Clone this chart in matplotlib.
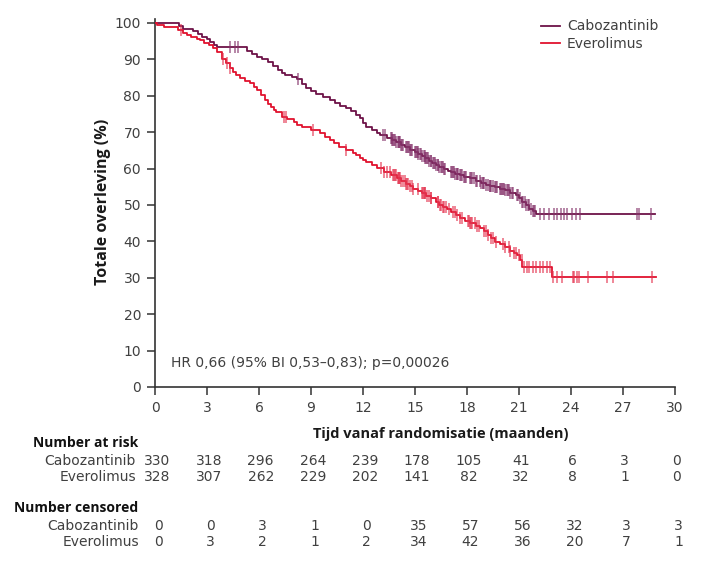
import numpy as np
import matplotlib
matplotlib.use("Agg")
import matplotlib.pyplot as plt
import matplotlib.transforms as mtransforms
from matplotlib.lines import Line2D

plt.rcParams['font.family'] = ['DejaVu Sans']
BOLD_FAMILY = ['Open Sans', 'DejaVu Sans']

# ---------------- data ----------------
series_names = ["Cabozantinib", "Everolimus"]

cabo_times = [0, 1.4, 1.6, 2.2, 2.5, 2.7, 3.0, 3.2, 3.4, 3.6, 5.3, 5.6, 5.9, 6.2, 6.5, 6.8,
              7.1, 7.3, 7.5, 7.9, 8.2, 8.5, 8.7, 9.0, 9.3, 9.7, 10.1, 10.4, 10.7, 11.0, 11.3,
              11.6, 11.8, 12.0, 12.2, 12.5, 12.8, 13.0, 13.4, 13.7, 13.9, 14.2, 14.4, 14.7,
              15.0, 15.2, 15.4, 15.6, 15.8, 16.0, 16.2, 16.4, 16.7, 16.9, 17.1, 17.3, 17.6,
              17.8, 18.2, 18.5, 18.8, 19.1, 19.3, 19.6, 19.9, 20.2, 20.5, 20.8, 21.0, 21.2,
              21.4, 21.6, 21.8, 22.0]
cabo_surv = [100, 99.3, 98.3, 97.7, 97.0, 96.2, 95.5, 94.8, 94.0, 93.4, 92.4, 91.6, 90.6, 90.0,
             89.3, 88.2, 87.0, 86.3, 85.7, 85.2, 84.6, 83.3, 82.2, 81.2, 80.4, 79.6, 78.8,
             78.0, 77.3, 76.6, 75.9, 74.8, 73.8, 72.6, 71.5, 70.6, 69.8, 69.2, 68.4, 67.8,
             67.2, 66.6, 66.0, 65.2, 64.5, 64.0, 63.4, 62.8, 62.2, 61.6, 61.0, 60.4, 59.8,
             59.4, 59.0, 58.6, 58.2, 57.8, 57.4, 56.7, 56.0, 55.6, 55.3, 55.0, 54.5, 54.0,
             53.4, 52.7, 51.8, 50.8, 50.0, 49.0, 48.3, 47.6]

evero_times = [0, 0.1, 0.5, 1.3, 1.6, 1.85, 2.1, 2.4, 2.6, 2.85, 3.1, 3.35, 3.6, 3.85, 4.1,
               4.3, 4.5, 4.7, 4.9, 5.2, 5.5, 5.7, 5.9, 6.1, 6.35, 6.5, 6.7, 6.85, 7.0, 7.3,
               7.6, 8.0, 8.2, 8.5, 9.0, 9.5, 9.8, 10.1, 10.35, 10.6, 11.0, 11.4, 11.6, 11.8,
               12.0, 12.2, 12.5, 12.8, 13.2, 13.6, 13.95, 14.2, 14.5, 14.7, 14.9, 15.2, 15.4,
               15.65, 15.9, 16.2, 16.4, 16.6, 16.85, 17.1, 17.35, 17.6, 17.9, 18.2, 18.5,
               18.75, 19.0, 19.2, 19.4, 19.6, 19.9, 20.2, 20.5, 20.7, 20.9, 21.05, 21.2, 22.9]
evero_surv = [100, 99.5, 98.8, 98.0, 97.2, 96.7, 96.2, 95.7, 95.3, 94.6, 94.0, 93.0, 92.0,
              90.0, 89.0, 87.7, 86.5, 85.7, 85.0, 84.2, 83.5, 82.5, 81.6, 80.3, 78.8, 77.8,
              77.0, 76.2, 75.5, 74.2, 73.5, 72.8, 72.1, 71.4, 70.6, 69.8, 68.8, 67.9, 66.9,
              65.9, 65.0, 64.3, 63.6, 62.8, 62.3, 61.8, 61.0, 60.2, 59.2, 58.3, 57.4, 56.6,
              55.8, 55.1, 54.5, 53.8, 53.2, 52.5, 51.9, 50.8, 50.1, 49.5, 48.8, 48.1, 47.2,
              46.4, 45.7, 45.0, 44.3, 43.7, 42.8, 41.8, 40.8, 39.8, 39.2, 38.5, 37.3, 36.8,
              36.3, 35.0, 33.0, 30.3]
followup_end = [28.85, 28.9]

cabo_censor = [4.3, 4.6, 4.8, 8.25,
               13.15, 13.25, 13.6, 13.65, 13.7, 13.75, 13.8, 13.85, 13.9, 14.0, 14.05, 14.1,
               14.15, 14.2, 14.25, 14.3, 14.5, 14.55, 14.6, 14.65, 14.7, 14.75, 14.8,
               15.0, 15.05, 15.1, 15.15, 15.2, 15.3, 15.35, 15.4, 15.5, 15.55, 15.6, 15.65,
               15.7, 15.75, 15.8, 15.9, 15.95, 16.05, 16.1, 16.15, 16.2, 16.3, 16.35, 16.4,
               16.5, 16.55, 16.6, 16.7, 16.75, 17.1, 17.15, 17.2, 17.25, 17.3, 17.4, 17.45,
               17.5, 17.6, 17.65, 17.7, 17.8, 17.9, 17.95,
               18.2, 18.25, 18.3, 18.4, 18.5, 18.55, 18.75, 18.8, 18.9, 18.95, 19.0, 19.1,
               19.2, 19.3, 19.35, 19.4, 19.5, 19.6, 19.7, 19.75, 19.9, 19.95, 20.0, 20.1,
               20.15, 20.2, 20.3, 20.35, 20.45, 20.5, 20.6, 20.65, 20.9, 20.95, 21.05,
               21.2, 21.25, 21.35, 21.4, 21.5, 21.55, 21.7, 21.8, 21.85, 21.95,
               22.2, 22.45, 22.75, 23.0, 23.2, 23.45, 23.6, 23.75,
               24.05, 24.3, 24.5, 27.8, 27.9, 28.6]

evero_censor = [1.5, 3.9, 4.15, 4.3, 7.45, 7.55, 9.1, 11.0,
                13.05, 13.2, 13.4, 13.55, 13.75, 13.8, 13.85, 13.9, 14.0, 14.05, 14.1, 14.15,
                14.2, 14.3, 14.45, 14.5, 14.55, 14.6, 14.7, 14.8, 14.9, 15.15,
                15.4, 15.45, 15.5, 15.55, 15.6, 15.7, 15.8, 15.9, 15.95, 16.3, 16.35, 16.45,
                16.5, 16.6, 16.7, 16.8, 16.95, 17.2, 17.3, 17.4, 17.6, 17.7,
                18.05, 18.1, 18.2, 18.25, 18.3, 18.45, 18.55, 18.7, 19.0, 19.1, 19.2, 19.4,
                19.5, 19.65, 20.1, 20.2, 20.4, 20.5, 20.7, 20.85,
                21.0, 21.15, 21.3, 21.45, 21.6, 21.8, 22.0, 22.2, 22.4, 22.6, 22.8,
                22.95, 23.2, 23.5,
                24.1, 24.2, 24.35, 24.45, 25.0, 26.1, 26.4, 28.7]

xticks = [0, 3, 6, 9, 12, 15, 18, 21, 24, 27, 30]
yticks = [0, 10, 20, 30, 40, 50, 60, 70, 80, 90, 100]

at_risk_cabo = [330, 318, 296, 264, 239, 178, 105, 41, 6, 3, 0]
at_risk_evero = [328, 307, 262, 229, 202, 141, 82, 32, 8, 1, 0]
censored_cabo = [0, 0, 3, 1, 0, 35, 57, 56, 32, 3, 3]
censored_evero = [0, 3, 2, 1, 2, 34, 42, 36, 20, 7, 1]

hr_text = "HR 0,66 (95% BI 0,53\u20130,83); p=0,00026"

# ---------------- style ----------------
W, H = 703, 574
col_cabo = "#6d1248"
col_evero = "#e0122e"
col_cabo_c = "#85326a"
col_evero_c = "#e4334f"
txt_col = "#404040"
FS = 10

fig = plt.figure(figsize=(W / 100, H / 100), dpi=100)
ax_bottom_px, ax_top_px = 387, 23
ymax = 101
height_px = (ax_bottom_px - ax_top_px) * ymax / 100
ax = fig.add_axes([155 / W, 1 - ax_bottom_px / H, 520 / W, height_px / H])


def surv_at(times, surv, t):
    idx = np.searchsorted(np.asarray(times), t, side="right") - 1
    return np.asarray(surv)[idx]


for times, surv, cens, end, col, ccol in [
    (cabo_times, cabo_surv, cabo_censor, followup_end[0], col_cabo, col_cabo_c),
    (evero_times, evero_surv, evero_censor, followup_end[1], col_evero, col_evero_c),
]:
    tt = list(times) + [end]
    ss = list(surv) + [surv[-1]]
    ax.step(tt, ss, where="post", color=col, lw=1.3, zorder=3)
    ct = np.asarray(cens)
    ax.plot(ct, surv_at(times, surv, ct), linestyle="none", marker="|",
            markersize=9, markeredgewidth=1.1, color=ccol, alpha=0.75, zorder=4)

ax.set_xlim(0, 30)
ax.set_ylim(0, ymax)
ax.set_xticks(xticks)
ax.set_yticks(yticks)
ax.spines["top"].set_visible(False)
ax.spines["right"].set_visible(False)
for sp in ["left", "bottom"]:
    ax.spines[sp].set_color("#333333")
    ax.spines[sp].set_linewidth(1.2)
ax.tick_params(axis="both", direction="out", length=6, width=1.1, color="#333333",
               labelsize=FS, labelcolor=txt_col, pad=4)
ax.spines["left"].set_bounds(0, ymax)

# axis labels
fig.text(103 / W, 1 - 202 / H, "Totale overleving (%)", rotation=90, fontsize=11.5,
         fontweight="bold", family=BOLD_FAMILY, color="#1a1a1a", ha="center", va="center")
fig.text(441 / W, 1 - 434 / H, "Tijd vanaf randomisatie (maanden)", fontsize=10.5,
         fontweight="bold", family=BOLD_FAMILY, color="#1a1a1a", ha="center", va="center")

# HR text
ax.text(0.9, 6.5, hr_text, fontsize=FS, color=txt_col, ha="left", va="center")

# legend
handles = [Line2D([0], [0], color=col_cabo, lw=1.3),
           Line2D([0], [0], color=col_evero, lw=1.3)]
leg = fig.legend(handles, series_names, loc="upper left",
                 bbox_to_anchor=(528 / W, 1 - 7 / H), frameon=False, fontsize=FS,
                 handlelength=1.4, handletextpad=0.5, labelspacing=0.25)
for t in leg.get_texts():
    t.set_color(txt_col)

# numbers tables
trans = mtransforms.blended_transform_factory(ax.transData, fig.transFigure)
fig.text(138 / W, 1 - 443 / H, "Number at risk", fontsize=10, fontweight="bold",
         family=BOLD_FAMILY, color="#111111", ha="right", va="center")
fig.text(138 / W, 1 - 508 / H, "Number censored", fontsize=10, fontweight="bold",
         family=BOLD_FAMILY, color="#111111", ha="right", va="center")

rows = [
    (461, "Cabozantinib", at_risk_cabo, 0.1, 136),
    (477, "Everolimus", at_risk_evero, 0.1, 136),
    (526, "Cabozantinib", censored_cabo, 0.2, 139),
    (542, "Everolimus", censored_evero, 0.2, 139),
]
for ypx, name, vals, off, lab_right in rows:
    fig.text(lab_right / W, 1 - ypx / H, name, fontsize=FS, color=txt_col,
             ha="right", va="center")
    for x, v in zip(xticks, vals):
        ax.text(x + off, 1 - ypx / H, str(v), transform=trans, fontsize=FS,
                color=txt_col, ha="center", va="center", clip_on=False)

fig.savefig("out.png", dpi=100)
